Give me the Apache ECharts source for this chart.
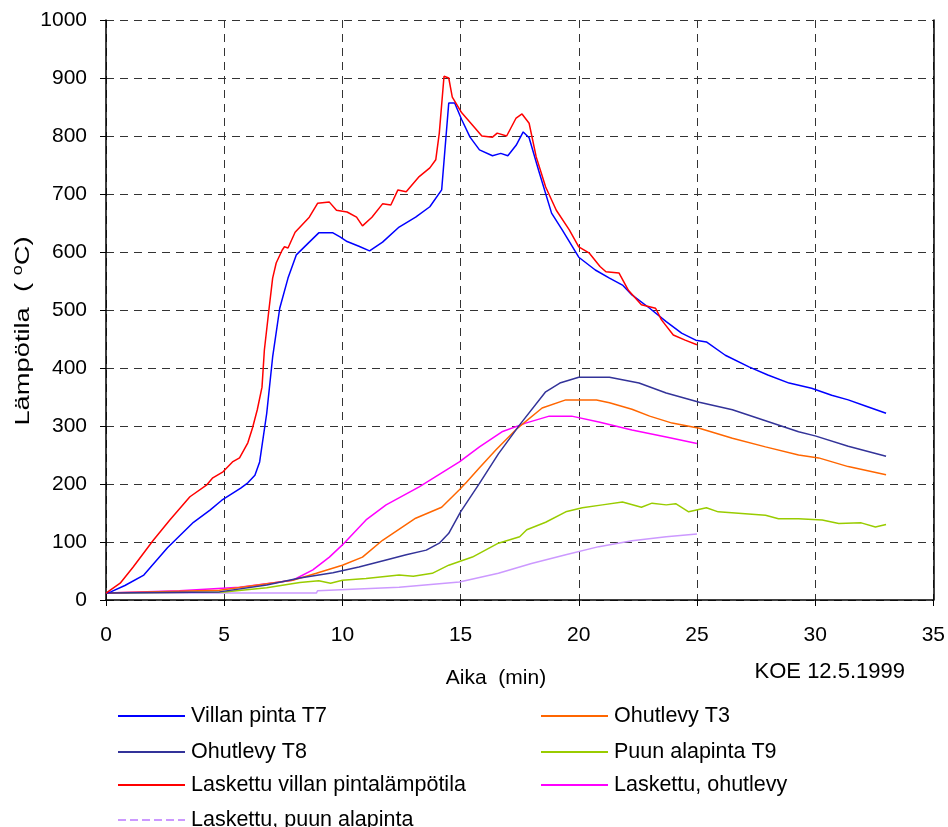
<!DOCTYPE html>
<html><head><meta charset="utf-8">
<script src="https://cdn.jsdelivr.net/npm/echarts@6/dist/echarts.min.js"></script>
<style>html,body{margin:0;padding:0;background:#fff}#c{width:948px;height:827px}</style>
</head><body><div id="c"></div>
<script>
// Villan pinta T7
const t7Time = [0,0.2,0.8,1.6,2.6,3.7,4.4,4.9,5.7,6.0,6.3,6.5,6.8,7.05,7.35,7.7,8.05,8.6,9.0,9.6,9.9,10.2,10.7,11.15,11.7,12.4,13.1,13.7,14.2,14.5,14.75,15.05,15.4,15.8,16.35,16.7,17.0,17.35,17.65,17.9,18.3,18.85,19.3,20.0,20.7,21.3,21.85,22.25,23.0,23.7,24.35,24.95,25.4,26.2,27.2,28.0,28.9,29.85,30.7,31.4,32.1,33.0];
const t7Vals = [12,14,25,43,90,134,155,172,193,202,215,238,322,419,503,555,595,617,633,633,626,618,610,602,617,643,660,678,707,857,857,828,798,776,766,770,766,784,807,797,741,667,638,591,569,555,543,526,503,480,460,448,445,422,402,388,374,365,353,345,335,322];
// Laskettu villan pintalämpötila
const calcWoolTime = [0,0.6,1.15,2.0,2.7,3.55,4.25,4.5,4.95,5.35,5.65,6.0,6.2,6.4,6.6,6.7,6.9,7.05,7.2,7.45,7.55,7.7,8.0,8.3,8.6,8.95,9.45,9.75,10.2,10.6,10.85,11.25,11.7,12.05,12.35,12.7,13.25,13.7,13.95,14.1,14.3,14.5,14.65,15.05,15.5,15.9,16.35,16.55,16.95,17.35,17.6,17.9,18.2,18.6,19.05,19.6,20.0,20.45,20.9,21.15,21.7,22.1,22.65,23.25,23.5,24.0,24.5,25.0];
const calcWoolVals = [12,29,57,103,138,178,198,210,221,238,245,271,297,328,367,431,503,555,581,603,609,607,634,647,660,684,686,672,669,660,645,660,683,681,707,704,730,745,759,805,903,900,867,840,819,800,798,805,800,831,838,822,764,712,672,638,609,598,575,566,564,534,509,503,483,457,448,440];
// Ohutlevy T8
const t8Time = [0,4.8,6.8,8.2,9.6,10.7,11.85,12.7,13.55,14.1,14.5,15.0,15.8,16.6,17.5,18.6,19.2,20.0,21.3,22.55,23.7,25.1,26.5,27.9,29.3,30.0,31.4,33.0];
const t8Vals = [12,14,26,38,47,57,69,78,86,98,115,152,201,252,302,359,374,384,384,374,357,341,328,309,290,283,265,248];
// Ohutlevy T3
const t3Time = [0,4.8,7.9,8.9,10.0,10.85,11.7,13.1,14.2,14.95,15.25,15.8,16.5,17.4,18.45,19.45,20.75,21.3,22.25,23.0,23.95,25.1,26.5,27.9,29.3,30.15,31.4,33.0];
const t3Vals = [12,17,34,46,60,74,103,141,160,190,203,228,259,296,331,345,345,340,329,317,305,296,279,264,250,245,230,216];
// Laskettu, ohutlevy
const calcPlateTime = [0,3.1,5.65,7.9,8.75,9.45,10.0,11.0,11.85,13.25,14.95,15.8,16.75,17.75,18.75,19.7,20.85,22.25,23.7,25.0];
const calcPlateVals = [12,16,22,34,52,74,95,138,164,195,238,264,290,305,317,317,307,293,281,270];
// Puun alapinta T9
const t9Time = [0,5.0,6.8,8.2,9.0,9.5,10.0,11.0,12.4,13.0,13.8,14.5,15.5,16.6,17.5,17.8,18.6,19.45,20.15,21.0,21.85,22.65,23.1,23.7,24.1,24.65,25.4,25.9,27.9,28.45,29.3,30.3,31.0,31.95,32.55,33.0];
const t9Vals = [12,14,21,30,33,29,34,37,43,41,46,60,74,98,109,121,134,152,159,164,169,160,167,164,166,152,159,152,146,140,140,138,132,133,126,130];
// Laskettu, puun alapinta
const calcWoodTime = [0,8.9,8.95,12.4,14.95,16.6,18.0,19.45,20.85,22.25,23.7,25.0];
const calcWoodVals = [12,12,16,22,31,46,63,78,92,102,109,114];

const xTicks = [0,5,10,15,20,25,30,35];
const yTicks = [0,100,200,300,400,500,600,700,800,900,1000];

const zip = (a,b) => a.map((v,i)=>[v,b[i]]);
const FONT = 'Liberation Sans, Arial, sans-serif';

const mk = (name, t, v, color, extra) => Object.assign({
  name, type:'line', data: zip(t,v), symbol:'none', showSymbol:false, smooth:false,
  lineStyle:{color, width:1.5}, itemStyle:{color}, animation:false
}, extra||{});

// legend layout: [name, left, top]
const legendItems = [
  ['Villan pinta T7', 117, 705],
  ['Ohutlevy T3', 540, 705],
  ['Ohutlevy T8', 117, 741],
  ['Puun alapinta T9', 540, 741],
  ['Laskettu villan pintalämpötila', 117, 774],
  ['Laskettu, ohutlevy', 540, 774],
  ['Laskettu, puun alapinta', 117, 809]
];

const chart = echarts.init(document.getElementById('c'));
chart.setOption({
  animation:false,
  grid:{left:106, right:13, top:20, bottom:227},
  xAxis:{type:'value', min:xTicks[0], max:xTicks[xTicks.length-1], interval:5,
    axisLine:{show:true, onZero:false, lineStyle:{color:'#000', width:1.5}},
    axisTick:{show:true, length:6, lineStyle:{color:'#000'}},
    axisLabel:{fontSize:21, color:'#000', fontFamily:FONT, margin:25, formatter:v=>String(v)},
    splitLine:{show:true, lineStyle:{color:'#333', type:[8,6], width:1}}},
  yAxis:[{type:'value', min:yTicks[0], max:yTicks[yTicks.length-1], interval:100,
    axisLine:{show:true, lineStyle:{color:'#000', width:1.5}},
    axisTick:{show:true, length:6, lineStyle:{color:'#000'}},
    axisLabel:{fontSize:21, color:'#000', fontFamily:FONT, margin:19, formatter:v=>String(v)},
    splitLine:{show:true, lineStyle:{color:'#333', type:[8,6], width:1}}},
    {type:'value', min:0, max:1000, position:'right',
    axisLine:{show:true, lineStyle:{color:'#000', width:1.5}},
    axisTick:{show:false}, axisLabel:{show:false}, splitLine:{show:false}}],
  legend: legendItems.map(([name,l,t]) => ({
    left:l, top:t, padding:0, itemWidth:67, itemHeight:14, selectedMode:false,
    itemStyle:{opacity:0},
    textStyle:{fontSize:21.5, color:'#000', fontFamily:FONT, padding:[0,0,0,1]},
    data:[name]
  })),
  graphic:[
    {type:'text', x:496, y:678, style:{text:'Aika  (min)', fill:'#000', font:'21px '+FONT, align:'center', verticalAlign:'middle'}},
    {type:'text', right:43, top:661, style:{text:'KOE 12.5.1999', fill:'#000', font:'22px '+FONT}},
    {type:'text', x:23, y:331, rotation:Math.PI/2, scaleX:1.3,
     style:{text:'Lämpötila  ( {s|o}C)', fill:'#000', font:'21px '+FONT, align:'center', verticalAlign:'middle',
       rich:{s:{fontSize:14, fontFamily:FONT, fill:'#000', padding:[0,0,10,0]}}}}
  ],
  series:[
    mk('_wood', calcWoodTime, calcWoodVals, '#CC99FF'),
    mk('Laskettu, puun alapinta', [], [], '#CC99FF', {lineStyle:{color:'#CC99FF', width:2, type:'dashed'}}),
    mk('Puun alapinta T9', t9Time, t9Vals, '#99CC00'),
    mk('Laskettu, ohutlevy', calcPlateTime, calcPlateVals, '#FF00FF'),
    mk('Ohutlevy T3', t3Time, t3Vals, '#FF6600'),
    mk('Ohutlevy T8', t8Time, t8Vals, '#333399'),
    mk('Villan pinta T7', t7Time, t7Vals, '#0000FF'),
    mk('Laskettu villan pintalämpötila', calcWoolTime, calcWoolVals, '#FF0000')
  ]
});
</script></body></html>
